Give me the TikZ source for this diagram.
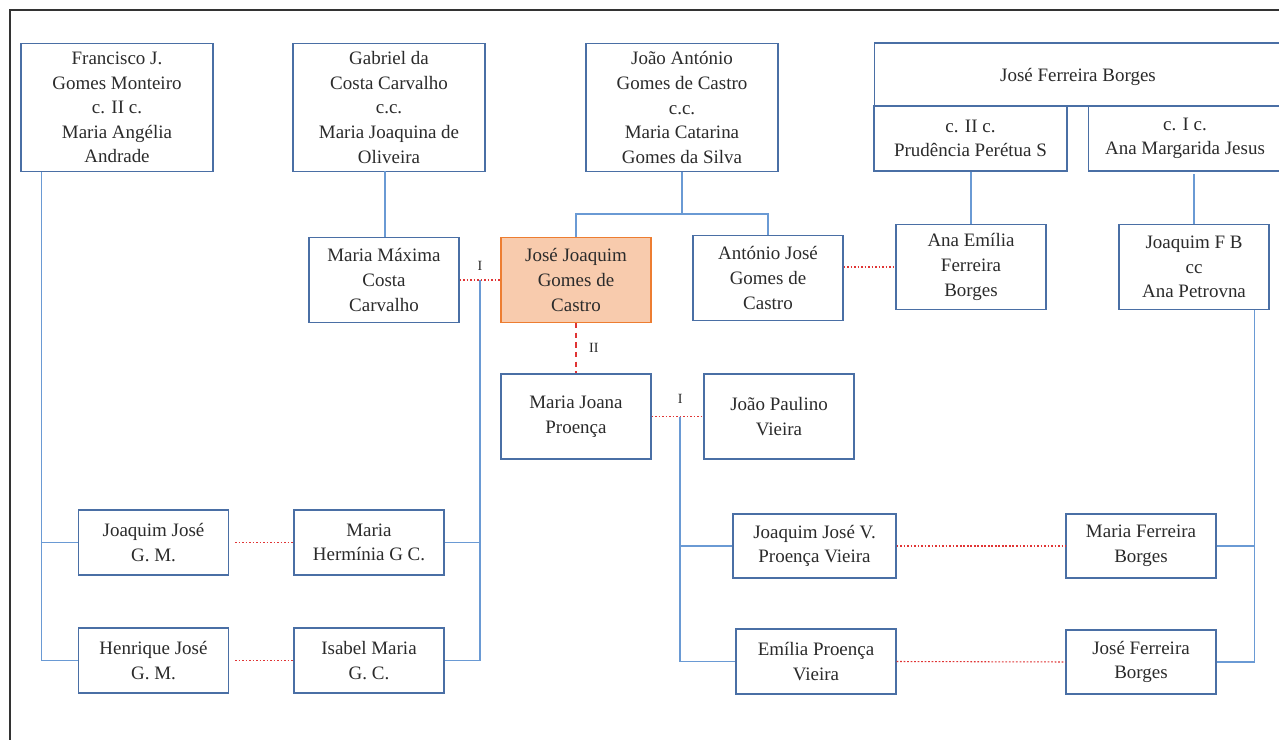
\documentclass[tikz,border=0pt]{standalone}
\usepackage{fontspec}
\setmainfont{Liberation Serif}
\usepackage{tikz}
\usetikzlibrary{calc}
\definecolor{boxblue}{HTML}{4A6FA5}
\definecolor{linkblue}{HTML}{6A9AD4}
\definecolor{wedred}{HTML}{E03535}
\definecolor{egofill}{HTML}{F8CBAD}
\definecolor{egoline}{HTML}{ED7D31}
\definecolor{inkgray}{HTML}{2B2B2B}

\begin{document}
\begin{tikzpicture}[x=0.02cm, y=-0.02cm,
    person/.style={draw=boxblue, line width=0.6pt, fill=white, align=center,
        inner sep=1pt, text=inkgray, font=\fontsize{10.8}{14}\selectfont},
    big/.style={person, minimum width=3.84cm, minimum height=2.56cm},
    mid/.style={person, minimum width=3cm, minimum height=1.7cm},
    low/.style={person, minimum width=3cm, minimum height=1.3cm},
    ego/.style={mid, fill=egofill, draw=egoline},
    link/.style={draw=linkblue, line width=0.7pt},
    wed/.style={draw=wedred, line width=0.6pt, dash pattern=on 1pt off 1pt},
    wedII/.style={draw=wedred, line width=1pt, dash pattern=on 3pt off 2.5pt},
    tag/.style={font=\fontsize{8}{9}\selectfont, text=inkgray, inner sep=1pt}]

    \clip (0,0) rectangle (1279,740);
    \fill[white] (0,0) rectangle (1279,740);

    % --- frame ---
    \draw[black!80, line width=1pt] (10,760) -- (10,10) -- (1300,10);

    % --- top generation ---
    \node[big] (fran) at (117,107.5) {Francisco J.\\Gomes Monteiro\\c. II c.\\Maria Angélia\\Andrade};
    \node[big] (gabr) at (389,107.5) {Gabriel da\\Costa Carvalho\\c.c.\\Maria Joaquina de\\Oliveira};
    \node[big] (joao) at (682,107.5) {João António\\Gomes de Castro\\c.c.\\Maria Catarina\\Gomes da Silva};
    \node[person, minimum width=8.16cm, minimum height=1.26cm, text depth=-1pt] (jfbt) at (1078,74.5) {José Ferreira Borges};
    \node[person, minimum width=3.86cm, minimum height=1.3cm] (prud) at (970.5,138.5) {c. II c.\\Prudência Perétua S};
    \node[person, minimum width=3.88cm, minimum height=1.3cm] (amj) at (1185,138.5) {c. I c.\\Ana Margarida Jesus};

    % --- second generation ---
    \node[mid] (mmax) at (384,280) {Maria Máxima\\Costa\\Carvalho};
    \node[ego] (jjgc) at (576,280) {José Joaquim\\Gomes de\\Castro};
    \node[mid] (ajgc) at (768,278) {António José\\Gomes de\\Castro};
    \node[mid] (aefb) at (971,267) {Ana Emília\\Ferreira\\Borges};
    \node[mid] (jfbp) at (1194,267) {Joaquim F B\\cc\\Ana Petrovna};
    \node[mid] (mjp) at (576,416.5) {Maria Joana\\Proença};
    \node[mid] (jpv) at (779,416.5) {João Paulino\\Vieira};

    % --- third generation ---
    \node[low] (jjgm) at (153.5,542.5) {Joaquim José\\G. M.};
    \node[low] (mher) at (369,542.5) {Maria\\Hermínia G C.};
    \node[low] (henr) at (153.5,660.5) {Henrique José\\G. M.};
    \node[low] (isab) at (369,660.5) {Isabel Maria\\G. C.};
    \node[person, minimum width=3.26cm, minimum height=1.28cm] (jjvp) at (814.5,546) {Joaquim José V.\\Proença Vieira};
    \node[person, minimum width=3.2cm, minimum height=1.3cm] (epv) at (816,661.5) {Emília Proença\\Vieira};
    \node[person, minimum width=3cm, minimum height=1.28cm] (mfb) at (1141,546) {Maria Ferreira\\Borges};
    \node[person, minimum width=3cm, minimum height=1.28cm] (jfbb) at (1141,662) {José Ferreira\\Borges};

    % --- descent lines ---
    \draw[link] ([xshift=0.42cm]fran.south west) |- (jjgm.west);
    \draw[link] ([xshift=0.42cm]fran.south west) |- (henr.west);
    \draw[link] (mmax.north) ++(1,0) -- ++(0,-66);
    \draw[link] (joao.south) -- ++(0,42) coordinate (jbar);
    \draw[link] (jjgc.north) |- (jbar) -| (ajgc.north);
    \draw[link] (aefb.north) -- (aefb.north |- prud.south);
    \draw[link] (jfbp.north) -- ++(0,-50);
    \draw[link] ([xshift=-0.3cm]jfbp.south east) |- (mfb.east);
    \draw[link] ([xshift=-0.3cm]jfbp.south east) |- (jfbb.east);

    % --- marriages ---
    \draw[wed] (mmax.east) -- (jjgc.west) coordinate[midway] (wed1);
    \node[tag, above=4pt] at (wed1) {I};
    \draw[link] (wed1) |- (mher.east);
    \draw[link] (wed1) |- (isab.east);

    \draw[wedII] (jjgc.south) -- (mjp.north) node[tag, midway, right=6pt] {II};

    \draw[wed] (mjp.east) -- (jpv.west) coordinate[pos=0.55] (wed2);
    \node[tag, above=6pt] at (wed2) {I};
    \draw[link] (wed2) |- (jjvp.west);
    \draw[link] (wed2) |- (epv.west);

    \draw[wed] (ajgc.east |- aefb.west) -- (aefb.west);
    \draw[wed] ([xshift=0.12cm]jjgm.east) -- (mher.west);
    \draw[wed] ([xshift=0.12cm]henr.east) -- (isab.west);
    \draw[wed] (jjvp.east) -- (mfb.west);
    \draw[wed] (epv.east) -- (jfbb.west);

\end{tikzpicture}
\end{document}
